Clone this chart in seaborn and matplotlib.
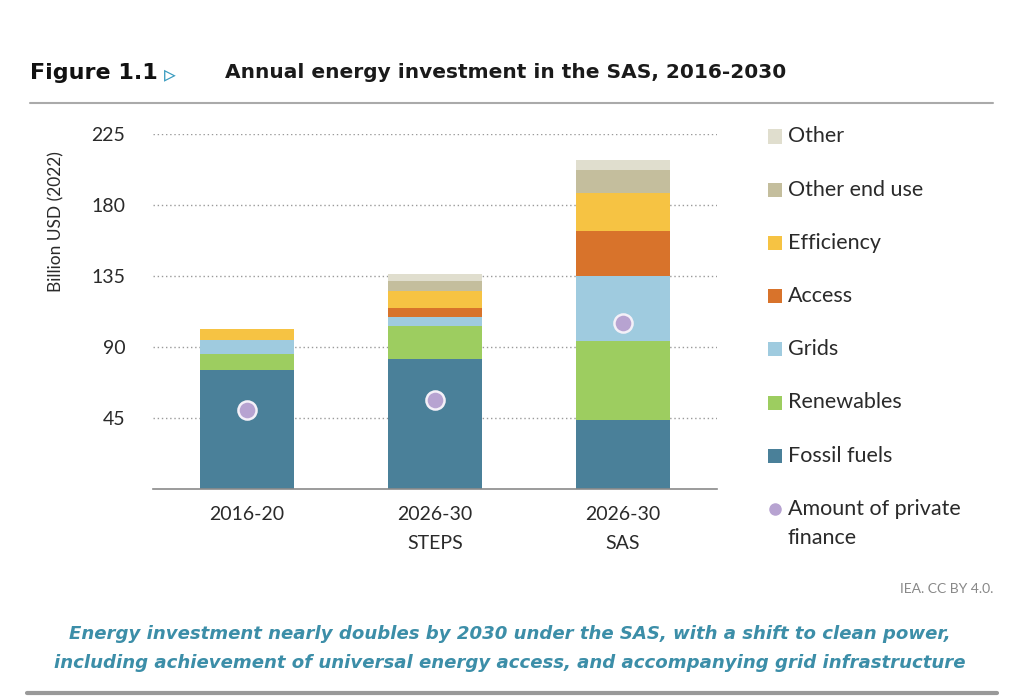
import matplotlib
matplotlib.use("Agg")
import matplotlib.pyplot as plt
from matplotlib.patches import Rectangle
from matplotlib.lines import Line2D
import seaborn as sns
import numpy as np
import pandas as pd

# ---- data ----
categories = ["2016-20", "2026-30\nSTEPS", "2026-30\nSAS"]
fossil_fuels = [75.5, 82.5, 44.0]
renewables = [10.0, 21.0, 49.5]
grids = [9.0, 5.5, 41.5]
access = [0.0, 5.5, 28.5]
efficiency = [7.0, 11.0, 24.0]
other_end_use = [0.0, 6.5, 15.0]
other = [0.0, 4.0, 6.0]
private_finance = [50.3, 56.2, 105.0]

series_names = ["Fossil fuels", "Renewables", "Grids", "Access",
                "Efficiency", "Other end use", "Other"]
series_values = [fossil_fuels, renewables, grids, access,
                 efficiency, other_end_use, other]
series_colors = ["#4A8099", "#9DCD60", "#9FCBDF", "#D8732B",
                 "#F6C343", "#C4BE9D", "#E0DECE"]
dot_color = "#B7A3D1"
y_ticks = [45, 90, 135, 180, 225]

sns.set_theme(style="white")
plt.rcParams["font.family"] = ["Lato", "DejaVu Sans"]

fig = plt.figure(figsize=(10.24, 6.97), dpi=100)
ax = fig.add_axes([153/1024, 1-489/697, (717-153)/1024, (489-134)/697])

df = pd.DataFrame({"category": categories})
cum = np.zeros(len(categories))
cums = []
for vals in series_values:
    cum = cum + np.array(vals)
    cums.append(cum.copy())
df_cum = df.copy()
for name, c in zip(series_names, cums):
    df_cum[name] = c

# draw cumulative totals from top down so that they stack visually
for name, color in reversed(list(zip(series_names, series_colors))):
    sns.barplot(data=df_cum, x="category", y=name, color=color,
                width=0.5, ax=ax, saturation=1, edgecolor="none",
                linewidth=0, zorder=2)

df_pf = pd.DataFrame({"category": categories, "pf": private_finance})
sns.scatterplot(data=df_pf, x="category", y="pf", ax=ax, s=170,
                color=dot_color, edgecolor="#f4f0f8", linewidth=1.8, zorder=5)

ax.set_xlim(-0.5, 2.5)
ax.set_ylim(0, 225)
ax.set_xlabel("")
ax.set_ylabel("")
ax.set_yticks(y_ticks)
ax.set_yticklabels([str(t) for t in y_ticks])
ax.set_axisbelow(True)
ax.yaxis.grid(True, linestyle=(0, (1, 2)), color="#9a9a9a", linewidth=1.0)
ax.xaxis.grid(False)
for s in ["top", "right", "left"]:
    ax.spines[s].set_visible(False)
ax.spines["bottom"].set_color("#8a8a8a")
ax.spines["bottom"].set_linewidth(1.2)
ax.tick_params(axis="y", length=0, pad=20, labelsize=14, labelcolor="#2a2a2a")
ax.tick_params(axis="x", which="major", length=0, pad=12, labelsize=14,
               labelcolor="#2a2a2a")
ax.set_xticks([-0.5, 0.5, 1.5, 2.5], minor=True)
ax.tick_params(axis="x", which="minor", length=7, width=1.2,
               color="#8a8a8a", direction="out")
ax.set_xticks(range(len(categories)))
ax.set_xticklabels(categories, linespacing=1.85)
if ax.legend_:
    ax.legend_.remove()

fig.text(56/1024, 1-222/697, "Billion USD (2022)", rotation=90,
         ha="center", va="center", fontsize=12.5, color="#2a2a2a")

# legend (manual)
leg_items = list(zip(series_names, series_colors))[::-1]
y0 = 136.5
step = 53.2
for i, (name, color) in enumerate(leg_items):
    yc = y0 + i * step
    fig.add_artist(Rectangle((768/1024, 1-(yc+7)/697), 14/1024, 14/697,
                             transform=fig.transFigure, color=color, lw=0))
    fig.text(788/1024, 1-yc/697, name, ha="left", va="center",
             fontsize=15.5, color="#2a2a2a")
yc = y0 + 7 * step
fig.add_artist(Line2D([775/1024], [1-yc/697], marker="o", markersize=8,
                      color=dot_color, transform=fig.transFigure, lw=0))
fig.text(788/1024, 1-(yc-10)/697, "Amount of private\nfinance", ha="left",
         va="top", fontsize=15.5, color="#2a2a2a", linespacing=1.6)

# title
fig.text(30/1024, 1-73/697, "Figure 1.1", ha="left", va="center",
         fontsize=16, fontweight="heavy", color="#111111",
         family=["DejaVu Sans"])
fig.text(164/1024, 1-74/697, "\u25B9", ha="left", va="center",
         fontsize=17, color="#3A9CC0", family=["DejaVu Sans"])
fig.text(225/1024, 1-73/697, "Annual energy investment in the SAS, 2016-2030",
         ha="left", va="center", fontsize=14.5, fontweight="bold",
         color="#1a1a1a", family=["DejaVu Sans"])
fig.add_artist(Line2D([30/1024, 993/1024], [1-103/697, 1-103/697],
                      color="#aaaaaa", lw=1.5, transform=fig.transFigure))

fig.text(993/1024, 1-589/697, "IEA. CC BY 4.0.", ha="right", va="center",
         fontsize=10, color="#888888")
fig.text(510/1024, 1-648.5/697,
         "Energy investment nearly doubles by 2030 under the SAS, with a shift to clean power,\n"
         "including achievement of universal energy access, and accompanying grid infrastructure",
         ha="center", va="center", fontsize=13.1, fontweight="bold",
         style="italic", color="#3C8EA8", linespacing=1.75,
         family=["DejaVu Sans"])
fig.add_artist(Line2D([27/1024, 997/1024], [1-693/697, 1-693/697],
                      color="#999999", lw=3, transform=fig.transFigure))

fig.savefig("out.png", dpi=100)
